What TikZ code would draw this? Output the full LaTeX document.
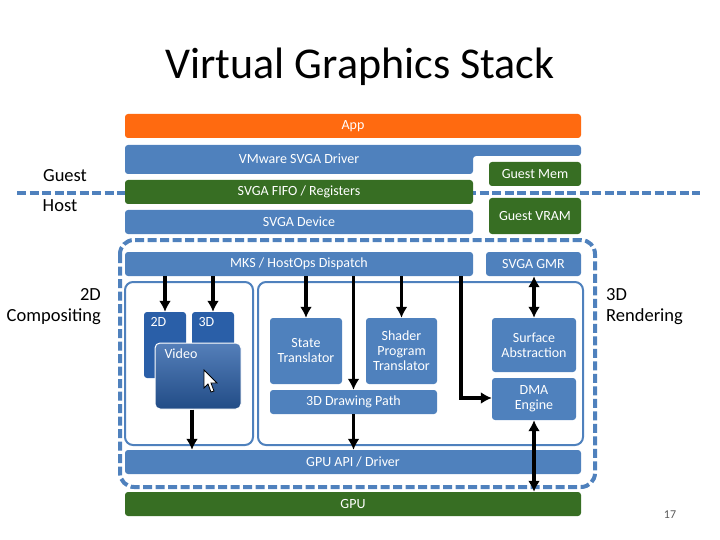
\documentclass[tikz,border=0pt]{standalone}
\usepackage{fontspec}
\setmainfont{Carlito}
\usetikzlibrary{arrows.meta}
\definecolor{bblue}{HTML}{4F81BD}
\definecolor{bgreen}{HTML}{376E23}
\definecolor{borange}{HTML}{FF6A10}
\definecolor{dblue}{HTML}{2A5FA8}
\begin{document}
\begin{tikzpicture}[x=1pt,y=-1pt,
  box/.style={fill=#1,draw=none,rounded corners=3pt,text=white,
    font=\fontsize{14}{15}\selectfont,align=center,inner sep=0pt},
  lab/.style={font=\fontsize{18.5}{21}\selectfont,align=center,inner sep=0pt},
  arr/.style={line width=3.6pt,-{Latex[length=11pt,width=12pt]}},
  darr/.style={line width=3.6pt,{Latex[length=11pt,width=12pt]}-{Latex[length=11pt,width=12pt]}},
  dsh/.style={bblue,line width=4pt,dash pattern=on 9pt off 3.5pt}]
\useasboundingbox (0,0) rectangle (720,540);
\newcommand{\bx}[6]{\node[box=#2,minimum width={#5-#3},minimum height={#6-#4}] (#1) at ({(#3+#5)/2},{(#4+#6)/2})}
% title
\node[font=\fontsize{44}{46}\selectfont,inner sep=0pt] (title) at (360,67) {Virtual Graphics Stack};
% guest/host dashed separator
\draw[dsh] (17,193) -- (700,193);
\bx{app}{borange}{125}{114}{581}{138} {App};
\fill[bblue,rounded corners=3pt] (125,145) -- (581,145) -- (581,156) -- (473,156) -- (473,174) -- (125,174) -- cycle;
\node[text=white,font=\fontsize{14}{15}\selectfont,inner sep=0pt] (drv) at (299,159) {VMware SVGA Driver};
\bx{gmem}{bgreen}{489}{162}{581}{186} {Guest Mem};
\bx{fifo}{bgreen}{125}{180}{473}{204} {SVGA FIFO / Registers};
\bx{dev}{bblue}{125}{210}{473}{234} {SVGA Device};
\bx{vram}{bgreen}{489}{198}{581}{234} {Guest VRAM};
\node[lab] (guest) at (65,176) {Guest};
\node[lab] (host) at (60,206) {Host};
% host region
\draw[dsh,rounded corners=14pt] (120,240) rectangle (595,487);
\bx{disp}{bblue}{125}{252}{473}{276} {MKS / HostOps Dispatch};
\bx{gmr}{bblue}{486}{252}{581}{276} {SVGA GMR};
\draw[bblue,line width=2pt,rounded corners=8pt] (125,282) rectangle (253,445);
\draw[bblue,line width=2pt,rounded corners=8pt] (258,282) rectangle (583,445);
\node[lab,align=right,anchor=east] (comp) at (101,307) {2D\\Compositing};
\node[lab,align=left,anchor=west] (rend) at (606,307) {3D\\Rendering};
% 2D compositing
\bx{b2d}{dblue}{144}{312}{186}{378} {};
\node[text=white,font=\fontsize{14}{15}\selectfont,anchor=north west] at (147,314) {2D};
\bx{b3d}{dblue}{192}{312}{234}{360} {};
\node[text=white,font=\fontsize{14}{15}\selectfont,anchor=north west] at (195,314) {3D};
\node[draw=white,line width=1pt,rounded corners=5pt,top color=dblue!80!white,bottom color=dblue!80!black,
  minimum width=86,minimum height=66,inner sep=0pt] (video) at (198,376) {};
\node[text=white,font=\fontsize{14}{15}\selectfont,anchor=north west] at (161,345) {Video};
\fill[white,draw=black,line width=0.8pt] (204,370) -- (204,388) -- (208,384) -- (211,392) -- (214,391) -- (211,383) -- (217,383) -- cycle;
% 3D rendering
\bx{state}{bblue}{270}{318}{342}{384} {State\\Translator};
\bx{shader}{bblue}{366}{318}{437}{384} {Shader\\Program\\Translator};
\bx{path}{bblue}{270}{390}{437}{414} {3D Drawing Path};
\bx{surf}{bblue}{492}{318}{576}{372} {Surface\\Abstraction};
\bx{dma}{bblue}{492}{378}{576}{420} {DMA\\Engine};
\bx{api}{bblue}{125}{450}{581}{474} {GPU API / Driver};
\bx{gpu}{bgreen}{125}{492}{581}{516} {GPU};
\node[font=\fontsize{12}{13}\selectfont,text=gray!70!black] (pg) at (670,515) {17};
% connectors
\draw[arr] (disp.south -| b2d) -- (b2d.north);
\draw[arr] (disp.south -| b3d) -- (b3d.north);
\draw[arr] (disp.south -| state) -- (state.north);
\draw[arr] (disp.south -| path) -- (path.north);
\draw[arr] (disp.south -| shader) -- (shader.north);
\coordinate (bend) at (461,398);
\draw[arr] (disp.south -| bend) -- (bend) -- (dma.west |- bend);
\draw[arr] (video.south -| 192,0) -- (api.north -| 192,0);
\draw[arr] (path.south) -- (api.north -| path);
\draw[darr] (gmr.south -| surf) -- (surf.north);
\draw[darr] (dma.south) -- (gpu.north -| dma);
\end{tikzpicture}
\end{document}
